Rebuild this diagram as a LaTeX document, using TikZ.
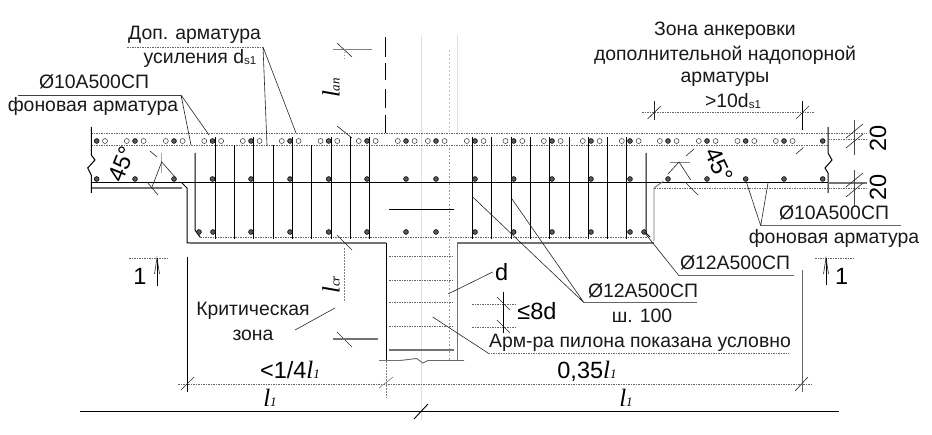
\documentclass[tikz,border=0pt]{standalone}
\usepackage{fontspec}
\setmainfont{Liberation Sans}
\newfontfamily\serifit[ItalicFont={Liberation Serif Italic}]{Liberation Serif}
\usetikzlibrary{arrows.meta}
\tikzset{
  lbl/.style={inner sep=0pt,font=\fontsize{19.4}{22}\selectfont,text=black!90},
  big/.style={inner sep=0pt,font=\fontsize{23.5}{24}\selectfont,text=black},
  thin line/.style={line width=.6pt,black!85},
  bar/.style={line width=1pt,black},
  dots/.style={line width=.9pt,black!60,dash pattern=on 1.6pt off .9pt},
  heavy/.style={line width=1.5pt,black!55},
  ghost/.style={line width=.7pt,black!12},
  filled/.style={fill=black!65,draw=black,line width=.6pt},
  hollow/.style={fill=white,draw=black!80,line width=.5pt},
}
\newcommand{\lit}[2]{{\serifit\itshape\fontsize{25}{25}\selectfont #1\fontsize{13}{13}\selectfont #2}}
\newcommand{\subs}[1]{{\fontsize{11.5}{10}\selectfont\raisebox{-1.5pt}{#1}}}
\begin{document}
\begin{tikzpicture}[x=1pt,y=-1pt]
\useasboundingbox (0,0) rectangle (932,435);
\fill[white] (0,0) rectangle (932,435);
% faint construction lines
\draw[ghost] (421.5,35) -- (421.5,420);
\draw[ghost] (457,35) -- (457,133);
\draw[line width=.6pt,black!25,dash pattern=on 2pt off 2pt] (449,50) -- (449,133);
\draw[line width=.7pt,black!40,dash pattern=on 1.5pt off 2pt] (449,145) -- (449,360);
% centre axis above the slab
\draw[line width=1pt,black] (385.7,37) -- (385.7,57) (385.7,63) -- (385.7,80) (385.7,89) -- (385.7,108) (385.7,115) -- (385.7,133);
% slab
\draw[dots] (91.3,133) -- (867,133);
\draw[dots] (91.3,145) -- (828,145);
\draw[bar] (91.3,183) -- (828,183);
\draw[heavy] (91.3,188) -- (182,188);
\draw[bar] (182,183) -- (187,188) -- (187,243) -- (386,243);
\draw[heavy] (190,243.2) -- (386,243.2);
\draw[dots] (200,237) -- (650,237);
\draw[line width=.9pt,black!55] (654,241) -- (654,188) -- (663,181.5);
\draw[dots] (654,188) -- (828,188);
\draw[heavy] (457,243) -- (654,243);
% slab edges with breaks
\draw[bar] (91.3,127) -- (91.3,155) -- (95,160) -- (87.7,168) -- (91.3,175) -- (91.3,193);
\draw[bar] (828,127) -- (828,153) -- (832,160) -- (825,168) -- (828,173) -- (828,193);
% column
\draw[bar] (386,243) -- (386,360);
\draw[line width=.9pt,black!55] (457,243) -- (457,360);
\draw[heavy] (379,360.5) -- (400,360.5);
\draw[line width=.9pt,black!60] (400,360.5) -- (416.7,358.5) -- (422.7,363) -- (428,360.5) -- (464,360.5);
\foreach \yy in {257,281,303,327}{\draw[dots,line width=1pt] (389,\yy) -- (454,\yy);}
\draw[heavy] (389,350) -- (454,350);
\draw[bar] (389,210) -- (454,210);
% stirrups
\foreach \xx in {215,253.5,292,331,350,369,472.5,491.8,511.1,530.4,549.7,569,588.3,607.6,626.9}{\draw[bar] (\xx,137) -- (\xx,239);}
\foreach \xx in {234,273,311}{\draw[bar] (\xx,145) -- (\xx,239);}
\draw[bar] (195,153) -- (195,230) -- (200,237);
\draw[bar] (646,153) -- (646,233) -- (650,237);
% top bars
\foreach \xx in {135,174,212.5,251,290,328.7,367,406,436,475,513.7,552,591,630,668,707,745.7,784}{
  \draw[hollow] (\xx-8.2,141) circle (2.5);
  \draw[hollow] (\xx+8.6,141) circle (2.5);
  \draw[filled] (\xx,141) circle (2.4);
}
\draw[filled] (96.7,141) circle (2.4);
\draw[hollow] (105,141) circle (2.5);
\draw[filled] (822.7,141) circle (2.4);
% middle bars
\foreach \xx in {96.7,135,174,212.5,251,290,328.7,367,406,436,475,513.7,552,591,630,668,707,745.7,784,822.7}{
  \draw[filled] (\xx,179) circle (2.4);
}
% bottom bars
\foreach \xx in {199,213,251,290,328.7,367,406,436,475,513.7,552,591,630,644}{
  \draw[filled] (\xx,232) circle (2.4);
}
% top left labels
\coordinate (dopEnd) at (263,47);
\coordinate (dopA) at (267,145);
\coordinate (dopB) at (296,133);
\coordinate (fonEnd) at (181,95);
\coordinate (fonA) at (191,145);
\coordinate (fonB) at (209,135);
\node[lbl] (dop) at (194.5,35) {Доп. арматура};
\node[lbl] (usil) at (200,58) {усиления d\subs{s1}};
\node[lbl] (fi10a) at (94,82) {Ø10А500СП};
\node[lbl] (fon1) at (93,106) {фоновая арматура};
\draw[dots] (127,47) -- (dopEnd);
\draw[thin line] (dopEnd) -- (dopA) (dopEnd) -- (dopB);
\draw[line width=.8pt,black!75] (18,95) -- (fonEnd);
\draw[thin line] (fonEnd) -- (fonA) (fonEnd) -- (fonB);
% l_an
\draw[line width=.7pt,black!50] (333,49) -- (372,49);
\draw[thin line] (337,43) -- (352,57);
\draw[thin line] (337,126) -- (352,138);
\draw[line width=.6pt,black!40,dash pattern=on 1.5pt off 1.5pt] (344,49) -- (344,60);
\node[rotate=90,inner sep=0pt] (lan) at (331,88) {\lit{l}{an}};
% 45 left
\node[big,rotate=68] (a45l) at (122,164) {45°};
\coordinate (apexL) at (161.7,162);
\draw[thin line] (150,151) -- (157,157);
\draw[line width=.6pt,black!35] (161.5,153) -- (161.5,173);
\draw[thin line] (175,177) -- (apexL) -- (152,187);
\draw[thin line] (147,182) -- (158,195);
% 45 right
\node[big,rotate=-65] (a45r) at (719,165) {45°};
\coordinate (apexR) at (679,162);
\draw[line width=.7pt,black!50] (670,162) -- (690,162);
\draw[thin line] (667.7,174.3) -- (apexR) -- (690.7,180);
\draw[thin line] (686,156) -- (694,149);
\draw[thin line] (685,182) -- (698,195);
\draw[thin line] (796,154) -- (803.4,147.5);
% anchorage zone
\node[lbl] (zona1) at (725,30.5) {Зона анкеровки};
\node[lbl] (zona2) at (725,55) {дополнительной надопорной};
\node[lbl] (zona3) at (725,79) {арматуры};
\node[lbl] (ten) at (733,101) {>10d\subs{s1}};
\draw[dots] (642,112) -- (813.6,112);
\draw[thin line] (654,101) -- (654,120);
\draw[thin line] (647.5,119) -- (661,106);
\draw[bar,line width=.8pt] (802.4,101) -- (802.4,130.5);
\draw[thin line] (796,119) -- (809,106);
% 20 dims
\draw[dots] (828,139) -- (867,139);
\draw[heavy,line width=1.1pt] (828,183) -- (867,183);
\draw[dots] (828,188) -- (867,188);
\draw[line width=.7pt,black!70] (854,120) -- (854,155) (854,170.5) -- (854,206);
\foreach \yy in {131,141,180,190}{\draw[thin line] (846,\yy+7) -- (863,\yy-7);}
\node[big,rotate=90] (d20a) at (878,138) {20};
\node[big,rotate=90] (d20b) at (878,187) {20};
% right labels
\coordinate (fon2End) at (760.7,225.7);
\coordinate (fon2A) at (746,181);
\coordinate (fon2B) at (768,183);
\node[lbl] (fi10b) at (834,213) {Ø10А500СП};
\node[lbl] (fon2) at (834,238) {фоновая арматура};
\draw[line width=1pt,black!60] (fon2End) -- (901,225.7);
\draw[thin line] (fon2End) -- (fon2A) (fon2End) -- (fon2B);
\coordinate (fi12End) at (679,275.7);
\coordinate (fi12Bar) at (644,232);
\node[lbl] (fi12a) at (735,263) {Ø12А500СП};
\draw[line width=1pt,black!60] (fi12End) -- (794,275.7);
\draw[thin line] (fi12End) -- (fi12Bar);
\coordinate (shEnd) at (584,302.7);
\coordinate (shA) at (472.7,197);
\coordinate (shB) at (512,199);
\node[lbl] (fi12b) at (643,291) {Ø12А500СП};
\node[lbl] (sh) at (642,316) {ш. 100};
\draw[line width=1pt,black!60] (shEnd) -- (697,302.7);
\draw[thin line] (shEnd) -- (shA) (shEnd) -- (shB);
% d, 8d
\node[big] (dd) at (501.7,272) {d};
\coordinate (ddEnd) at (448,294);
\draw[thin line] (492.7,272) -- (ddEnd);
\draw[dots] (472,304) -- (515,304) (472,327.7) -- (515,327.7);
\draw[bar] (503.3,292) -- (503.3,333);
\draw[thin line] (497,297) -- (510,310) (497,320) -- (510,333);
\node[big] (le8) at (537,311) {≤8d};
% pylon note
\coordinate (armEnd) at (488,353);
\coordinate (armTip) at (432.7,317);
\node[lbl] (arm) at (640,343) {Арм-ра пилона показана условно};
\draw[dots] (armEnd) -- (789,353);
\draw[thin line] (armEnd) -- (armTip);
% critical zone
\node[lbl] (krit) at (253,311) {Критическая};
\node[lbl] (zon) at (253,335) {зона};
\draw[thin line] (295,330) -- (335,308);
\draw[thin line] (337,235) -- (352,250);
\draw[thin line] (337,332) -- (352,347);
\draw[line width=.8pt,black!50,dash pattern=on 2pt off 1pt] (344,248) -- (344,302);
\draw[heavy] (333,339) -- (378,339);
\node[rotate=90,inner sep=0pt] (lcr) at (331,285) {\lit{l}{cr}};
% section marks
\draw[dots] (129,258) -- (168,258);
\draw[bar,line width=.7pt] (157,286) -- (157,258);
\draw[thin line] (154.5,274) -- (157,258) -- (159.5,274);
\node[big] (s1l) at (140,276) {1};
\draw[dots] (815,258) -- (854,258);
\draw[bar,line width=.7pt] (826,285) -- (826,258);
\draw[thin line] (823.5,274) -- (826,258) -- (828.5,274);
\node[big] (s1r) at (841.7,276) {1};
% dimension lines
\draw[bar] (187,257) -- (187,392);
\draw[line width=1pt,black!60] (802.7,270) -- (802.7,392);
\draw[dots] (178,384) -- (812,384);
\draw[thin line] (181,390) -- (194,377);
\draw[thin line] (795,391) -- (808,377);
\draw[line width=.6pt,black!50] (379,388) -- (393,377);
\draw[line width=.8pt,black!50,dash pattern=on 2pt off 1pt] (386,361) -- (386,398);
\node[big,inner sep=0pt] (q14) at (290,370) {<1/4\lit{l}{1}};
\node[big,inner sep=0pt] (q035) at (587,371) {0,35\lit{l}{1}};
\node[inner sep=0pt] (lleft) at (270,398) {\lit{l}{1}};
\node[inner sep=0pt] (lright) at (626,398) {\lit{l}{1}};
\draw[bar] (80,412) -- (839,412);
\draw[line width=.9pt,black] (414,419) -- (428,404);
\end{tikzpicture}
\end{document}
